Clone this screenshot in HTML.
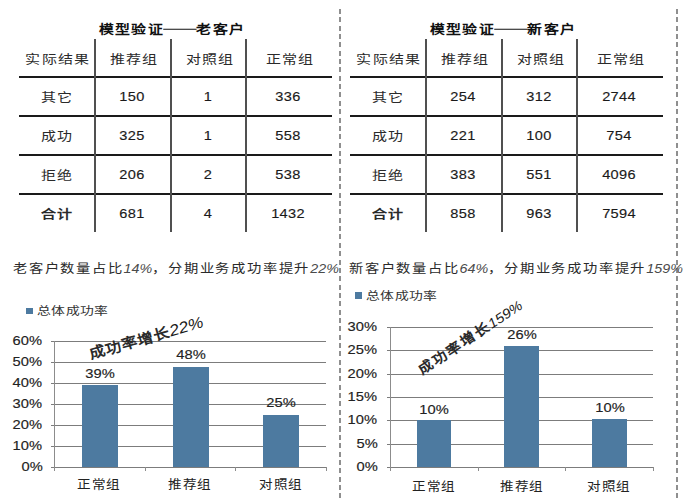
<!DOCTYPE html>
<html lang="zh-CN">
<head>
<meta charset="utf-8">
<style>
html,body{margin:0;padding:0;background:#fff;}
body{width:685px;height:501px;position:relative;overflow:hidden;font-family:"Liberation Sans",sans-serif;color:#222;}
.a{position:absolute;}
.dash{position:absolute;width:2px;background:repeating-linear-gradient(to bottom,#8f8f8f 0,#8f8f8f 5px,rgba(255,255,255,0) 5px,rgba(255,255,255,0) 8.35px);}
.hl{position:absolute;height:2px;background:#1a1a1a;}
.vl{position:absolute;width:2px;background:#505050;}
.c,.l,.r{position:absolute;width:0;height:0;white-space:nowrap;line-height:1;}
.c>span,.l>span,.r>span{position:absolute;top:0;display:block;}
.c>span{left:0;transform:translate(-50%,-50%) scaleX(var(--sx));}
.l>span{left:0;transform-origin:0 50%;transform:translate(0,-50%) scaleX(var(--sx));}
.r>span{right:0;transform-origin:100% 50%;transform:translate(0,-50%) scaleX(var(--sx));}
.cj{font-size:12.5px;--sx:1.2;letter-spacing:0.6px;color:#2a2a2a;font-weight:300;}
.cj>span{margin-right:-0.6px;}
.num{font-size:13px;--sx:1.12;letter-spacing:0.3px;color:#1a1a1a;-webkit-text-stroke:0.15px #1a1a1a;}
.title{font-size:12.5px;--sx:1.19;letter-spacing:0.6px;font-weight:bold;color:#111;}
.cap{font-size:12.5px;--sx:1.145;letter-spacing:0.8px;color:#2a2a2a;font-weight:300;}
.cap i{font-style:italic;letter-spacing:0;font-weight:normal;color:#4a4a4a;}
.leg{font-size:11.5px;--sx:1.2;letter-spacing:0.9px;color:#333;font-weight:300;}
.ax{font-size:13px;--sx:1.13;color:#222;-webkit-text-stroke:0.15px #222;}
.lbl{font-size:13px;--sx:1.13;color:#222;-webkit-text-stroke:0.15px #222;}
.cat{font-size:12.5px;--sx:1.085;letter-spacing:0.6px;color:#222;font-weight:300;}
.bar{position:absolute;background:#4D7AA0;}
.gl{position:absolute;height:1px;background:#7c7c7c;}
.rot{position:absolute;width:0;height:0;white-space:nowrap;line-height:1;}
.rot>span{position:absolute;left:0;top:0;display:block;transform-origin:0 0;}
.dsh{display:inline-block;height:1.6px;background:#111;vertical-align:middle;position:relative;top:-1px;}
</style>
</head>
<body>
<div class="dash" style="left:339px;top:9px;height:490px;"></div>
<div class="dash" style="left:676px;top:9px;height:490px;"></div>
<div class="c title" style="left:172.2px;top:29.7px;"><span>模型验证<span class="dsh" style="width:27.5px;"></span>老客户</span></div>
<div class="hl" style="left:19px;top:76px;width:313px;"></div>
<div class="hl" style="left:19px;top:115px;width:313px;"></div>
<div class="hl" style="left:19px;top:154px;width:313px;"></div>
<div class="hl" style="left:19px;top:193px;width:313px;"></div>
<div class="vl" style="left:94px;top:39px;height:193px;"></div>
<div class="vl" style="left:169.7px;top:39px;height:193px;"></div>
<div class="vl" style="left:245px;top:39px;height:193px;"></div>
<div class="c cj" style="left:57.5px;top:60px;"><span>实际结果</span></div>
<div class="c cj" style="left:133.5px;top:60px;"><span>推荐组</span></div>
<div class="c cj" style="left:209.5px;top:60px;"><span>对照组</span></div>
<div class="c cj" style="left:289.5px;top:60px;"><span>正常组</span></div>
<div class="c cj" style="left:56.5px;top:98.2px;"><span>其它</span></div>
<div class="c num" style="left:132.3px;top:95.5px;"><span>150</span></div>
<div class="c num" style="left:208.3px;top:95.5px;"><span>1</span></div>
<div class="c num" style="left:288.3px;top:95.5px;"><span>336</span></div>
<div class="c cj" style="left:56.5px;top:137.2px;"><span>成功</span></div>
<div class="c num" style="left:132.3px;top:134.5px;"><span>325</span></div>
<div class="c num" style="left:208.3px;top:134.5px;"><span>1</span></div>
<div class="c num" style="left:288.3px;top:134.5px;"><span>558</span></div>
<div class="c cj" style="left:56.5px;top:176.2px;"><span>拒绝</span></div>
<div class="c num" style="left:132.3px;top:173.5px;"><span>206</span></div>
<div class="c num" style="left:208.3px;top:173.5px;"><span>2</span></div>
<div class="c num" style="left:288.3px;top:173.5px;"><span>538</span></div>
<div class="c cj" style="left:56.5px;top:215.2px;font-weight:bold;color:#2a2a2a;"><span>合计</span></div>
<div class="c num" style="left:132.3px;top:212.5px;"><span>681</span></div>
<div class="c num" style="left:208.3px;top:212.5px;"><span>4</span></div>
<div class="c num" style="left:288.3px;top:212.5px;"><span>1432</span></div>
<div class="c title" style="left:503.2px;top:29.7px;"><span>模型验证<span class="dsh" style="width:27.5px;"></span>新客户</span></div>
<div class="hl" style="left:350px;top:76px;width:313px;"></div>
<div class="hl" style="left:350px;top:115px;width:313px;"></div>
<div class="hl" style="left:350px;top:154px;width:313px;"></div>
<div class="hl" style="left:350px;top:193px;width:313px;"></div>
<div class="vl" style="left:425px;top:39px;height:193px;"></div>
<div class="vl" style="left:500.7px;top:39px;height:193px;"></div>
<div class="vl" style="left:576px;top:39px;height:193px;"></div>
<div class="c cj" style="left:388.5px;top:60px;"><span>实际结果</span></div>
<div class="c cj" style="left:464.5px;top:60px;"><span>推荐组</span></div>
<div class="c cj" style="left:540.5px;top:60px;"><span>对照组</span></div>
<div class="c cj" style="left:620.5px;top:60px;"><span>正常组</span></div>
<div class="c cj" style="left:387.5px;top:98.2px;"><span>其它</span></div>
<div class="c num" style="left:463.3px;top:95.5px;"><span>254</span></div>
<div class="c num" style="left:539.3px;top:95.5px;"><span>312</span></div>
<div class="c num" style="left:619.3px;top:95.5px;"><span>2744</span></div>
<div class="c cj" style="left:387.5px;top:137.2px;"><span>成功</span></div>
<div class="c num" style="left:463.3px;top:134.5px;"><span>221</span></div>
<div class="c num" style="left:539.3px;top:134.5px;"><span>100</span></div>
<div class="c num" style="left:619.3px;top:134.5px;"><span>754</span></div>
<div class="c cj" style="left:387.5px;top:176.2px;"><span>拒绝</span></div>
<div class="c num" style="left:463.3px;top:173.5px;"><span>383</span></div>
<div class="c num" style="left:539.3px;top:173.5px;"><span>551</span></div>
<div class="c num" style="left:619.3px;top:173.5px;"><span>4096</span></div>
<div class="c cj" style="left:387.5px;top:215.2px;font-weight:bold;color:#2a2a2a;"><span>合计</span></div>
<div class="c num" style="left:463.3px;top:212.5px;"><span>858</span></div>
<div class="c num" style="left:539.3px;top:212.5px;"><span>963</span></div>
<div class="c num" style="left:619.3px;top:212.5px;"><span>7594</span></div>
<div class="l cap" style="left:12.5px;top:268.6px;"><span>老客户数量占比<i>14%</i>，分期业务成功率提升<i>22%</i></span></div>
<div class="l cap" style="left:349px;top:268.6px;"><span>新客户数量占比<i>64%</i>，分期业务成功率提升<i>159%</i></span></div>
<div class="a" style="left:26px;top:308px;width:6.6px;height:6.3px;background:#4D7AA0;"></div>
<div class="l leg" style="left:37px;top:311.8px;"><span>总体成功率</span></div>
<div class="gl" style="left:51px;top:341px;width:275px;"></div>
<div class="gl" style="left:51px;top:362px;width:275px;"></div>
<div class="gl" style="left:51px;top:383px;width:275px;"></div>
<div class="gl" style="left:51px;top:404px;width:275px;"></div>
<div class="gl" style="left:51px;top:425px;width:275px;"></div>
<div class="gl" style="left:51px;top:446px;width:275px;"></div>
<div class="gl" style="left:51px;top:467px;width:275px;"></div>
<div class="a" style="left:54px;top:341px;width:1px;height:130px;background:#8c8c8c;"></div>
<div class="r ax" style="left:42.3px;top:340px;"><span>60%</span></div>
<div class="r ax" style="left:42.3px;top:361px;"><span>50%</span></div>
<div class="r ax" style="left:42.3px;top:382px;"><span>40%</span></div>
<div class="r ax" style="left:42.3px;top:403px;"><span>30%</span></div>
<div class="r ax" style="left:42.3px;top:424px;"><span>20%</span></div>
<div class="r ax" style="left:42.3px;top:445px;"><span>10%</span></div>
<div class="r ax" style="left:42.3px;top:466px;"><span>0%</span></div>
<div class="a" style="left:144.7px;top:467px;width:1px;height:4px;background:#8c8c8c;"></div>
<div class="a" style="left:235.3px;top:467px;width:1px;height:4px;background:#8c8c8c;"></div>
<div class="a" style="left:326.0px;top:467px;width:1px;height:4px;background:#8c8c8c;"></div>
<div class="bar" style="left:82px;top:385px;width:36px;height:82px;"></div>
<div class="c lbl" style="left:100.0px;top:372.7px;"><span>39%</span></div>
<div class="bar" style="left:173px;top:367px;width:36px;height:100px;"></div>
<div class="c lbl" style="left:191.0px;top:354px;"><span>48%</span></div>
<div class="bar" style="left:263px;top:415px;width:36px;height:52px;"></div>
<div class="c lbl" style="left:281.0px;top:402px;"><span>25%</span></div>
<div class="c cat" style="left:99.33333333333334px;top:484.5px;"><span>正常组</span></div>
<div class="c cat" style="left:190.0px;top:484.5px;"><span>推荐组</span></div>
<div class="c cat" style="left:280.6666666666667px;top:484.5px;"><span>对照组</span></div>
<div class="rot" style="left:86.5px;top:346.5px;"><span style="font-size:14.4px;transform:rotate(-16deg) scaleX(1.1);"><span style="font-weight:700;letter-spacing:1.2px;color:#2a2a2a;">成功率增长</span><i style="font-weight:normal;color:#1a1a1a;font-size:1.1em;">22%</i></span></div>
<div class="a" style="left:355.3px;top:292.4px;width:6.6px;height:6.3px;background:#4D7AA0;"></div>
<div class="l leg" style="left:365.5px;top:297.4px;"><span>总体成功率</span></div>
<div class="gl" style="left:387px;top:327px;width:266px;"></div>
<div class="gl" style="left:387px;top:350px;width:266px;"></div>
<div class="gl" style="left:387px;top:374px;width:266px;"></div>
<div class="gl" style="left:387px;top:397px;width:266px;"></div>
<div class="gl" style="left:387px;top:420px;width:266px;"></div>
<div class="gl" style="left:387px;top:444px;width:266px;"></div>
<div class="gl" style="left:387px;top:467px;width:266px;"></div>
<div class="a" style="left:390px;top:327px;width:1px;height:144px;background:#8c8c8c;"></div>
<div class="r ax" style="left:377.3px;top:326px;"><span>30%</span></div>
<div class="r ax" style="left:377.3px;top:349px;"><span>25%</span></div>
<div class="r ax" style="left:377.3px;top:373px;"><span>20%</span></div>
<div class="r ax" style="left:377.3px;top:396px;"><span>15%</span></div>
<div class="r ax" style="left:377.3px;top:419px;"><span>10%</span></div>
<div class="r ax" style="left:377.3px;top:443px;"><span>5%</span></div>
<div class="r ax" style="left:377.3px;top:466px;"><span>0%</span></div>
<div class="a" style="left:477.7px;top:467px;width:1px;height:4px;background:#8c8c8c;"></div>
<div class="a" style="left:565.3px;top:467px;width:1px;height:4px;background:#8c8c8c;"></div>
<div class="a" style="left:653.0px;top:467px;width:1px;height:4px;background:#8c8c8c;"></div>
<div class="bar" style="left:417px;top:420px;width:34px;height:47px;"></div>
<div class="c lbl" style="left:434.0px;top:408.5px;"><span>10%</span></div>
<div class="bar" style="left:504px;top:346px;width:35px;height:121px;"></div>
<div class="c lbl" style="left:521.5px;top:334px;"><span>26%</span></div>
<div class="bar" style="left:592px;top:419px;width:35px;height:48px;"></div>
<div class="c lbl" style="left:609.5px;top:406.5px;"><span>10%</span></div>
<div class="c cat" style="left:433.8333333333333px;top:486.5px;"><span>正常组</span></div>
<div class="c cat" style="left:521.5px;top:486.5px;"><span>推荐组</span></div>
<div class="c cat" style="left:609.1666666666667px;top:486.5px;"><span>对照组</span></div>
<div class="rot" style="left:415.5px;top:365.5px;"><span style="font-size:13.6px;transform:rotate(-33.5deg) scaleX(1.1);"><span style="font-weight:700;letter-spacing:1.2px;color:#2a2a2a;">成功率增长</span><i style="font-weight:normal;color:#1a1a1a;font-size:1em;">159%</i></span></div>
</body>
</html>
